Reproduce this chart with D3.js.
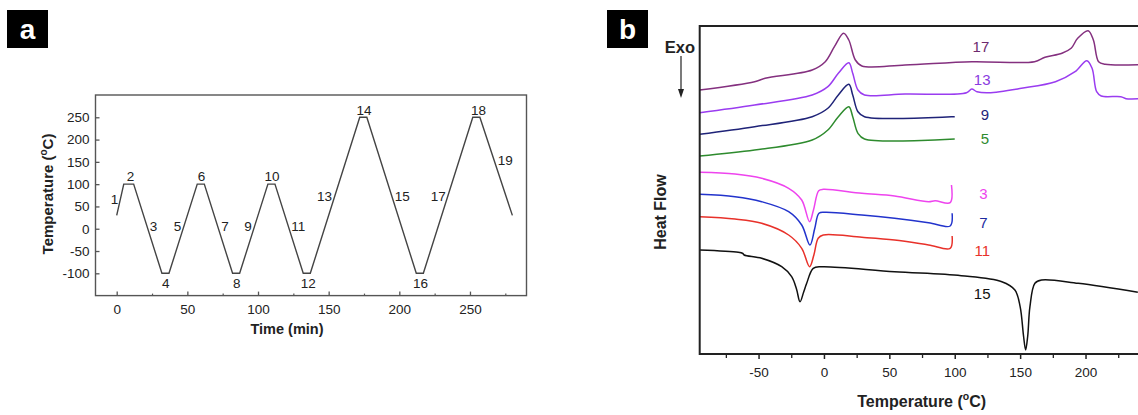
<!DOCTYPE html>
<html><head><meta charset="utf-8">
<script src="https://cdn.jsdelivr.net/npm/d3@7"></script>
<style>body{margin:0;background:#fff}svg{display:block;font-family:Arial,"Liberation Sans",sans-serif}</style>
</head><body>
<svg id="c" width="1138" height="415"></svg>
<script>
// ---------- Panel a : temperature program ----------
const timeMin = [0,5,12,32,37,57,62,82,87,107,112,132,137,172,177,212,217,252,257,280];
const tempC   = [30,100,100,-100,-100,100,100,-100,-100,100,100,-100,-100,250,250,-100,-100,250,250,30];
const segLabels = ["1","2","3","4","5","6","7","8","9","10","11","12","13","14","15","16","17","18","19"];
const segLabelTime = [-1.5,9.8,26,34.7,43,60,76.7,85,93,110,128.5,135.6,147,175,202,215,227.5,256,275];
const segLabelTemp = [65,117,5,-122,5,117,5,-122,5,117,5,-122,73,265,73,-122,73,265,153];
const aTicksX = [0,50,100,150,200,250];
const aMinorX = [25,75,125,175,225,275];
const aTicksY = [-100,-50,0,50,100,150,200,250];

// ---------- Panel b : DSC curves (temperature °C, heat flow arb. units) ----------
const c17T = [-95,-53,-45,-9,1,8,15,19,24,29,62,113,161,169,182,189,194,202,206,210,215,245];
const c17H = [264,272.3,275.7,284,292.3,307.3,320.7,314,294,288,289,292.3,292.3,296.7,300.7,305.7,315.7,323.3,314,292.3,289.7,289.5];
const c13T = [-95,-53,-9,3,11,19,22,26,31,62,109,113,117,126,151,177,192,201,205,208.5,212,227,231,245];
const c13H = [241.3,249,259,267.3,280.7,291.3,280.7,264,259,260,261.3,265,262.3,261.3,265.7,272.3,282.3,293.3,285.7,262.3,258,257.3,255.3,255.3];
const c9T = [-95,-53,-9,3,11,19,22,26,31,100];
const c9H = [219.7,227.3,237.3,245.7,259,269.7,259,242.3,237.3,237.3];
const c5T = [-95,-53,-9,3,11,19,22,26,31,100];
const c5H = [198,204,214,224,237.3,247.3,237.3,220.7,215,215];
const c3T = [-95,-68,-47.6,-27,-17,-11,-8,-4,-0.5,29,54,80,85,96.5,97.5];
const c3H = [181.7,180,175.7,165.7,154,132.3,144,163.3,164.7,160.7,158,152.3,153.3,151.3,169];
const c7T = [-95,-68,-47.6,-27,-17,-10.7,-7,-3.8,0.8,29,54,80,96.5,98];
const c7H = [159.7,157.3,152.3,142.3,129,109,125.7,140.7,141.7,139,135.7,131.3,128,140.7];
const c11T = [-95,-68,-47.6,-27,-17,-11,-7.7,-4.4,-0.5,29,54,80,96.5,98];
const c11H = [137.3,135,130.7,119,105.7,87.3,99,115.7,119,116.7,114,109,105.7,118];
const c15T = [-95,-65.5,-62,-61,-47.6,-32.3,-24.7,-21,-18.3,-15.5,-13.2,-8.2,-1.8,54,105,136,146,150,152.6,154.2,155.8,157.5,161.3,166.4,194.4,240];
const c15H = [104,101.7,100.5,99,95.7,87.3,77.3,65,52.3,62,70.7,85.7,87.3,82.3,78.3,72.3,64,47.3,18,4,18,47.3,70.7,74,70.7,61.7];
const curveNames = ["17","13","9","5","3","7","11","15"];
const curveColors = ["#84307f","#9a3cf0","#1f2378","#2e8b2e","#ee44ee","#2233cc","#e8312a","#111111"];
const labelColors = ["#6e2a6e","#8a3ae0","#1f2378","#2e8b2e","#ee44ee","#1c2aa0","#e8312a","#111111"];
const labelTemp = [120,121,123,123,122,122,121,121];
const labelHeat = [307,274.7,239,215.7,160.7,131.3,103.3,60.7];
const bTicksX = [-50,0,50,100,150,200];
const bMinorX = [-75,-25,25,75,125,175,225];

const svg = d3.select("#c");
const fmt = d => String(d);

// ===== Panel a =====
const xa = d3.scaleLinear().domain([-15,290]).range([95.5,526.5]);
const ya = d3.scaleLinear().domain([-150,300]).range([295.6,95]);
const ga = svg.append("g");
ga.append("rect").attr("x",7).attr("y",10).attr("width",41).attr("height",38).attr("fill","#000");
ga.append("text").attr("x",27.5).attr("y",39).attr("text-anchor","middle").attr("fill","#fff")
  .attr("font-size",28).attr("font-weight","bold").text("a");

ga.append("rect").attr("x",xa.range()[0]).attr("y",ya.range()[1])
  .attr("width",xa.range()[1]-xa.range()[0]).attr("height",ya.range()[0]-ya.range()[1])
  .attr("fill","none").attr("stroke","#555").attr("stroke-width",1.4);

const axA = ga.append("g").attr("transform",`translate(0,${ya.range()[0]})`)
  .call(d3.axisBottom(xa).tickValues(aTicksX).tickFormat(fmt).tickSizeInner(-4).tickSizeOuter(0).tickPadding(9));
axA.select(".domain").remove();
axA.selectAll("line").attr("stroke","#555").attr("stroke-width",1.3);
axA.selectAll("text").attr("font-size",13.5).attr("fill","#222").attr("font-family","Arial,'Liberation Sans',sans-serif");
const axAm = ga.append("g").attr("transform",`translate(0,${ya.range()[0]})`)
  .call(d3.axisBottom(xa).tickValues(aMinorX).tickSizeInner(-2).tickSizeOuter(0).tickFormat(""));
axAm.select(".domain").remove();
axAm.selectAll("line").attr("stroke","#555").attr("stroke-width",1.2);

const ayA = ga.append("g").attr("transform",`translate(${xa.range()[0]},0)`)
  .call(d3.axisLeft(ya).tickValues(aTicksY).tickFormat(fmt).tickSizeInner(-4).tickSizeOuter(0).tickPadding(6));
ayA.select(".domain").remove();
ayA.selectAll("line").attr("stroke","#555").attr("stroke-width",1.3);
ayA.selectAll("text").attr("font-size",13.5).attr("fill","#222").attr("font-family","Arial,'Liberation Sans',sans-serif");

ga.append("path").datum(timeMin.map((t,i)=>[t,tempC[i]]))
  .attr("d",d3.line().x(d=>xa(d[0])).y(d=>ya(d[1])))
  .attr("fill","none").attr("stroke","#444").attr("stroke-width",1.4);

ga.selectAll(".seg").data(segLabels).join("text")
  .attr("x",(d,i)=>xa(segLabelTime[i])).attr("y",(d,i)=>ya(segLabelTemp[i]))
  .attr("dy","0.35em").attr("text-anchor","middle").attr("font-size",13.5).attr("fill","#222").text(d=>d);

ga.append("text").attr("x",287).attr("y",334).attr("text-anchor","middle")
  .attr("font-size",14.5).attr("font-weight","bold").attr("fill","#222").text("Time (min)");
const tya = ga.append("text").attr("transform","translate(53,194) rotate(-90)").attr("text-anchor","middle")
  .attr("font-size",15).attr("font-weight","bold").attr("fill","#222");
tya.append("tspan").text("Temperature (");
tya.append("tspan").attr("font-size",10).attr("dy",-6).text("o");
tya.append("tspan").attr("dy",6).text("C)");

// ===== Panel b =====
const xb = d3.scaleLinear().domain([-95,260]).range([699.7,1164]);
const yb = d3.scaleLinear().domain([0,328]).range([354,26]);
const gb = svg.append("g");
gb.append("rect").attr("x",607).attr("y",10).attr("width",41).attr("height",38).attr("fill","#000");
gb.append("text").attr("x",627.5).attr("y",39).attr("text-anchor","middle").attr("fill","#fff")
  .attr("font-size",28).attr("font-weight","bold").text("b");

const Ts = [c17T,c13T,c9T,c5T,c3T,c7T,c11T,c15T];
const Hs = [c17H,c13H,c9H,c5H,c3H,c7H,c11H,c15H];
const line = d3.line().x(d=>xb(d[0])).y(d=>yb(d[1])).curve(d3.curveCatmullRom.alpha(0.5));
curveNames.forEach((n,k)=>{
  gb.append("path").datum(Ts[k].map((t,i)=>[t,Hs[k][i]]))
    .attr("d",line).attr("fill","none").attr("stroke",curveColors[k]).attr("stroke-width",1.5);
  gb.append("text").attr("x",xb(labelTemp[k])).attr("y",yb(labelHeat[k])).attr("dy","0.35em")
    .attr("text-anchor","middle").attr("font-size",15).attr("fill",labelColors[k]).text(n);
});

gb.append("path").attr("d",`M${xb.range()[1]},${yb.range()[1]}H${xb.range()[0]}V${yb.range()[0]}H${xb.range()[1]}`)
  .attr("fill","none").attr("stroke","#222").attr("stroke-width",2);

const axB = gb.append("g").attr("transform",`translate(0,${yb.range()[0]})`)
  .call(d3.axisBottom(xb).tickValues(bTicksX).tickFormat(fmt).tickSizeInner(5).tickSizeOuter(0).tickPadding(8));
axB.select(".domain").remove();
axB.selectAll("line").attr("stroke","#222").attr("stroke-width",1.5);
axB.selectAll("text").attr("font-size",13.5).attr("fill","#222").attr("font-family","Arial,'Liberation Sans',sans-serif");
const axBm = gb.append("g").attr("transform",`translate(0,${yb.range()[0]})`)
  .call(d3.axisBottom(xb).tickValues(bMinorX).tickSizeInner(4).tickSizeOuter(0).tickFormat(""));
axBm.select(".domain").remove();
axBm.selectAll("line").attr("stroke","#222").attr("stroke-width",1.3);

const txb = gb.append("text").attr("x",921.7).attr("y",407).attr("text-anchor","middle")
  .attr("font-size",16).attr("font-weight","bold").attr("fill","#222");
txb.append("tspan").text("Temperature (");
txb.append("tspan").attr("font-size",10.5).attr("dy",-7).text("o");
txb.append("tspan").attr("dy",7).text("C)");

gb.append("text").attr("transform","translate(666,212) rotate(-90)").attr("text-anchor","middle")
  .attr("font-size",16).attr("font-weight","bold").attr("fill","#222").text("Heat Flow");

gb.append("text").attr("x",680).attr("y",53).attr("text-anchor","middle")
  .attr("font-size",16.5).attr("font-weight","bold").attr("fill","#222").text("Exo");
gb.append("line").attr("x1",681).attr("x2",681).attr("y1",56).attr("y2",92).attr("stroke","#222").attr("stroke-width",1.2);
gb.append("path").attr("d","M678,89L681,98L684,89Z").attr("fill","#222");
</script>
</body></html>
